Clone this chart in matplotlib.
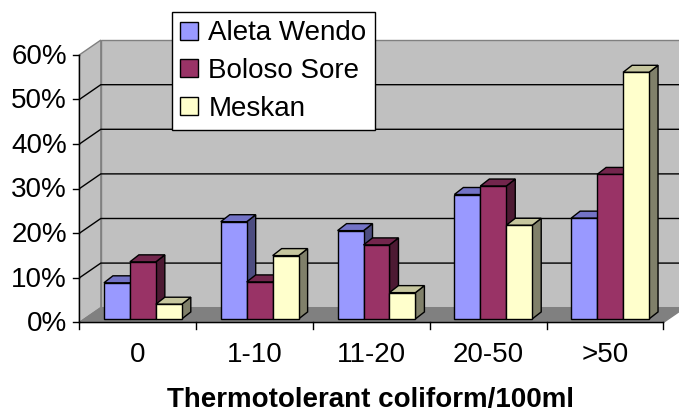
import matplotlib
matplotlib.use("Agg")
import matplotlib.pyplot as plt
from matplotlib.patches import Polygon, Patch

plt.rcParams['font.family'] = ['Liberation Sans', 'DejaVu Sans']

categories = ["0", "1-10", "11-20", "20-50", ">50"]
series_names = ["Aleta Wendo", "Boloso Sore", "Meskan"]
aleta_wendo = [8.1, 21.8, 19.8, 27.9, 22.6]
boloso_sore = [12.8, 8.3, 16.6, 29.8, 32.4]
meskan = [3.3, 14.2, 5.9, 21.0, 55.3]
y_ticks = [0, 10, 20, 30, 40, 50, 60]
y_tick_labels = ["0%", "10%", "20%", "30%", "40%", "50%", "60%"]
x_title = "Thermotolerant coliform/100ml"

front_colors = ["#9999FF", "#993366", "#FFFFCC"]
top_colors = ["#7373C6", "#73264D", "#C6C69E"]
side_colors = ["#4D4D80", "#4D1A33", "#80806A"]

# oblique geometry (data units)
WALL_DU, WALL_DP = 0.184, 3.32      # full depth of floor/walls
BAR_FRAC = 0.24                     # depth at which bar front faces sit
BAR_DU, BAR_DP = 0.077, 1.57        # bar depth
GAP = 1.5                           # gap width relative to bar width
YMAX = 60

fig = plt.figure(figsize=(6.79, 4.12), dpi=100)
ax = fig.add_axes([0, 0, 1, 1])
ax.set_xlim(-0.679, 5.134)
ax.set_ylim(-20.07, 72.31)
ax.axis('off')

n = len(categories)

def poly(pts, fc, ec, lw=1.0, z=1):
    ax.add_patch(Polygon(pts, closed=True, facecolor=fc, edgecolor=ec,
                         linewidth=lw, zorder=z, joinstyle='miter'))

# back wall
poly([(WALL_DU, WALL_DP), (n + WALL_DU + 1, WALL_DP),
      (n + WALL_DU + 1, YMAX + WALL_DP), (WALL_DU, YMAX + WALL_DP)],
     "#C0C0C0", "#808080", 1.0, 1)
# side wall
poly([(0, 0), (WALL_DU, WALL_DP), (WALL_DU, YMAX + WALL_DP), (0, YMAX)],
     "#C0C0C0", "#808080", 1.0, 1)
# gridlines
for t in y_ticks[1:-1]:
    ax.plot([0, WALL_DU, n + WALL_DU + 1], [t, t + WALL_DP, t + WALL_DP],
            color="black", lw=1.0, zorder=2, solid_capstyle='butt')
# floor
poly([(0, 0), (n, 0), (n + WALL_DU, WALL_DP), (WALL_DU, WALL_DP)],
     "#808080", "#808080", 1.0, 3)

# axes lines and ticks
ax.plot([0, 0], [0, YMAX], color="black", lw=1.0, zorder=4)
ax.plot([0, n], [0, 0], color="black", lw=1.0, zorder=4)
for t in y_ticks:
    ax.plot([-0.05, 0], [t, t], color="black", lw=1.0, zorder=4)
for k in range(n + 1):
    ax.plot([k, k], [0, -1.55], color="black", lw=1.0, zorder=4)

# bars
series = [aleta_wendo, boloso_sore, meskan]
ns = len(series)
bw = 1.0 / (ns + GAP)
ox, oy = BAR_FRAC * WALL_DU, BAR_FRAC * WALL_DP
z = 10
for k in range(n):
    for s in range(ns):
        v = series[s][k]
        x0 = k + GAP * bw / 2 + s * bw + ox
        x1 = x0 + bw
        y0, y1 = oy, oy + v
        # side face
        poly([(x1, y0), (x1 + BAR_DU, y0 + BAR_DP), (x1 + BAR_DU, y1 + BAR_DP), (x1, y1)],
             side_colors[s], "black", 1.0, z)
        # top face
        poly([(x0, y1), (x1, y1), (x1 + BAR_DU, y1 + BAR_DP), (x0 + BAR_DU, y1 + BAR_DP)],
             top_colors[s], "black", 1.0, z)
        # front face
        poly([(x0, y0), (x1, y0), (x1, y1), (x0, y1)],
             front_colors[s], "black", 1.0, z + 1)
        z += 2

# tick labels
for t, lab in zip(y_ticks, y_tick_labels):
    ax.text(-0.105, t - 0.4, lab, ha='right', va='center', fontsize=20, color='black')
for k, lab in enumerate(categories):
    ax.text(k + 0.5, -7.3, lab, ha='center', va='center', fontsize=20, color='black')
ax.text(2.49, -17.4, x_title, ha='center', va='center', fontsize=20,
        fontweight='bold', color='black')

# legend
handles = [Patch(facecolor=c, edgecolor='black', linewidth=1.0) for c in front_colors]
leg = ax.legend(handles, series_names, loc='upper left',
                bbox_to_anchor=(172 / 679, 1 - 12 / 412), bbox_transform=fig.transFigure,
                borderaxespad=0, fontsize=20, handlelength=0.65, handleheight=0.62,
                handletextpad=0.36, labelspacing=0.42, borderpad=0.3,
                fancybox=False, framealpha=1, edgecolor='black')
leg.get_frame().set_linewidth(1.0)
leg.set_zorder(100)

fig.savefig("out.png", dpi=100)
